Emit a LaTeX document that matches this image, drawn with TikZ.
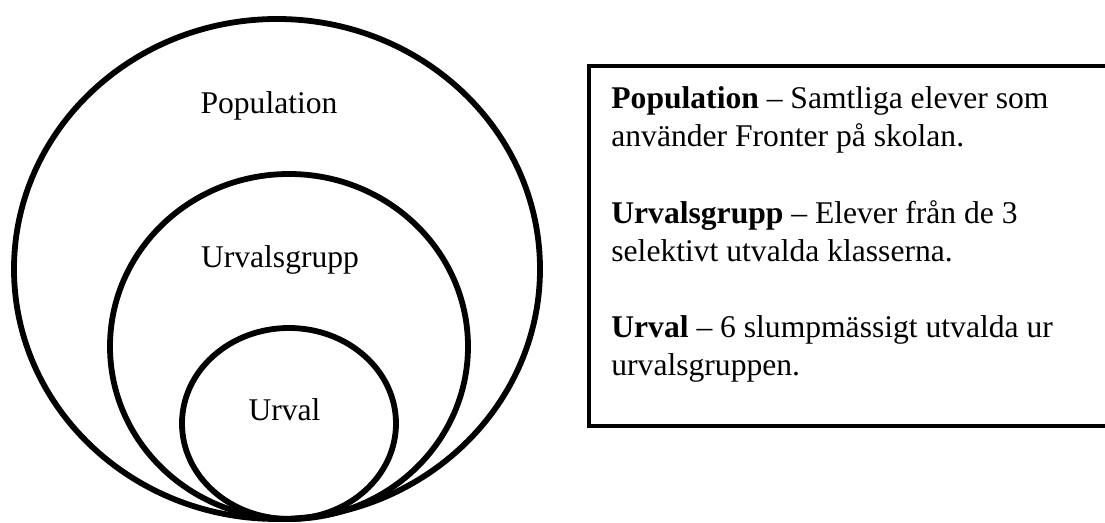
\documentclass[tikz,border=0pt]{standalone}
\usepackage{fontspec}
\setmainfont{Liberation Serif}
\tikzset{
  ring/.style={line width=2.9pt},
  label/.style={anchor=base, inner sep=0pt, font=\fontsize{15.8}{19}\selectfont},
  entry/.style={anchor=base west, inner sep=0pt, align=left, font=\fontsize{15.8}{19}\selectfont}
}
\begin{document}
\begin{tikzpicture}[x=0.5pt, y=-0.5pt]
    \useasboundingbox (0,0) rectangle (1105,523);
    \clip (0,0) rectangle (1105,523);
    \draw [ring] (277,269) ellipse [x radius=131.5pt, y radius=125pt];
    \draw [ring] (289,346.5) ellipse [x radius=89.5pt, y radius=86.25pt];
    \draw [ring] (289,423.5) ellipse [x radius=53.5pt, y radius=47.75pt];
    \node [label] (popLabel) at (269,113.6) {Population};
    \node [label] (grpLabel) at (280,268) {Urvalsgrupp};
    \node [label] (selLabel) at (284.5,420.7) {Urval};
    \draw [line width=2pt] (1120,66) -- (589,66) -- (589,426) -- (1120,426);
    % base of a two-line node is its last line
    \node [entry] (popText) at (611,147) {\textbf{Population} -- Samtliga elever som\\anv\"ander Fronter p\aa{} skolan.};
    \node [entry] (grpText) at (611,261.6) {\textbf{Urvalsgrupp} -- Elever fr\aa{}n de 3\\selektivt utvalda klasserna.};
    \node [entry] (selText) at (611,376) {\textbf{Urval} -- 6 slumpm\"assigt utvalda ur\\urvalsgruppen.};
\end{tikzpicture}
\end{document}
